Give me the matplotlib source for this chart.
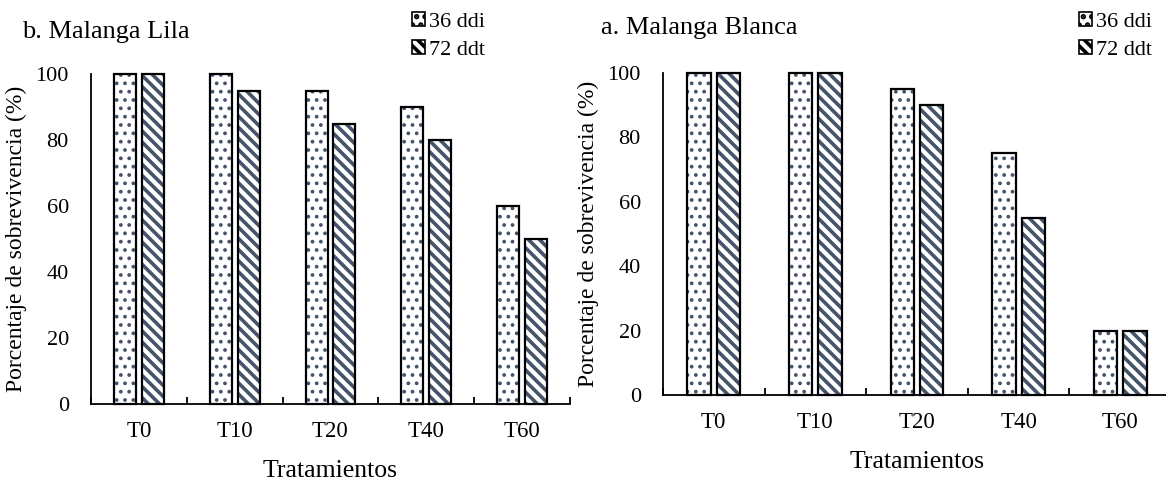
import matplotlib
matplotlib.use("Agg")
import matplotlib.pyplot as plt
from matplotlib.patches import Patch
import numpy as np

plt.rcParams['font.family'] = ['Liberation Serif', 'DejaVu Serif']
plt.rcParams['hatch.linewidth'] = 2.6

categories = ["T0", "T10", "T20", "T40", "T60"]
lila_36 = [100, 100, 95, 90, 60]
lila_72 = [100, 95, 85, 80, 50]
blanca_36 = [100, 100, 95, 75, 20]
blanca_72 = [100, 100, 90, 55, 20]
series_labels = ["36 ddi", "72 ddt"]
yticks = [0, 20, 40, 60, 80, 100]

W, H = 1166, 480
fig = plt.figure(figsize=(W / 100, H / 100), dpi=100)

hatch_col = "#44546a"
HATCHES = ["..", "\\\\\\"]
HATCH_LW = [1.5, 2.6]


def draw_bars(ax, x, vals, i):
    with plt.rc_context({'hatch.linewidth': HATCH_LW[i]}):
        ax.bar(x, vals, width=0.23, color="white", edgecolor=hatch_col, hatch=HATCHES[i],
               linewidth=0, clip_on=False, zorder=2)
    ax.bar(x, vals, width=0.23, color="none", edgecolor="black",
           linewidth=1.6, clip_on=False, zorder=3)


def panel(rect, title, title_xy, v36, v72, leg_xy):
    ax = fig.add_axes(rect)
    x = np.arange(len(categories))
    draw_bars(ax, x - 0.145, v36, 0)
    draw_bars(ax, x + 0.145, v72, 1)
    ax.set_xlim(-0.5, len(categories) - 0.5)
    ax.set_ylim(0, 100)
    ax.set_yticks(yticks)
    ax.tick_params(axis="y", length=0, labelsize=16, pad=16)
    ax.set_yticks([100], minor=True)
    ax.tick_params(axis="y", which="minor", direction="in", length=4, width=1.3)
    ax.set_xticks(x)
    ax.set_xticklabels(categories)
    ax.tick_params(axis="x", length=0, labelsize=16.5, pad=12)
    ax.set_xticks(np.arange(len(categories) + 1) - 0.5, minor=True)
    ax.tick_params(axis="x", which="minor", direction="in", length=5, width=1.3)
    for s in ["top", "right"]:
        ax.spines[s].set_visible(False)
    for s in ["left", "bottom"]:
        ax.spines[s].set_linewidth(1.3)
    ax.set_ylabel("Porcentaje de sobrevivencia (%)", fontsize=17, labelpad=6)
    ax.set_xlabel("Tratamientos", fontsize=18.5, labelpad=13)
    fig.text(title_xy[0] / W, 1 - title_xy[1] / H, title, fontsize=19,
             ha="left", va="center")
    handles = []
    for i in range(2):
        with plt.rc_context({'hatch.linewidth': HATCH_LW[i] * 0.6}):
            handles.append(Patch(facecolor="white", edgecolor=hatch_col,
                                 hatch=HATCHES[i], linewidth=0))
    leg = fig.legend(handles, series_labels, loc="upper left",
                     bbox_to_anchor=(leg_xy[0] / W, 1 - leg_xy[1] / H),
                     frameon=False, fontsize=16, handlelength=0.6, handleheight=0.6,
                     handletextpad=0.15, labelspacing=0.35, borderpad=0, borderaxespad=0)
    for p in leg.get_patches():
        p.set_edgecolor("black")
        p.set_linewidth(1.2)
    return ax


panel([91 / W, 1 - 404 / H, 479 / W, 330 / H], "b. Malanga Lila", (22, 32),
      lila_36, lila_72, (412, 12))
panel([663 / W, 1 - 395 / H, 508 / W, 322 / H], "a. Malanga Blanca", (601, 28),
      blanca_36, blanca_72, (1079, 12))

fig.savefig("out.png", dpi=100)
